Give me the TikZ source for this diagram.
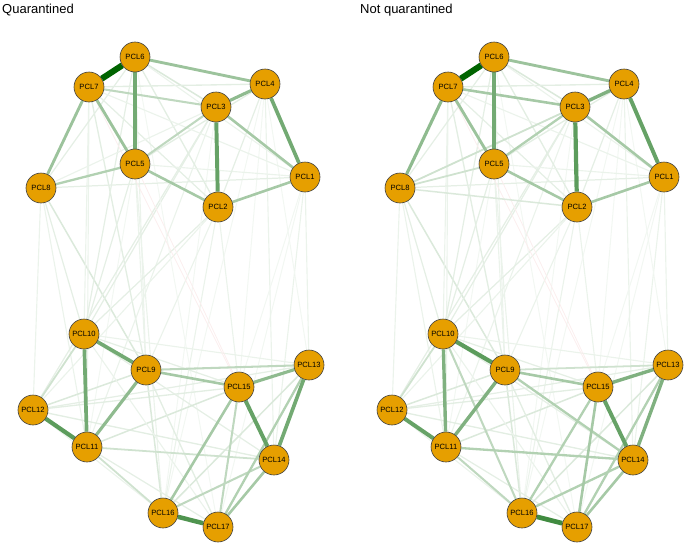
\documentclass[tikz,border=0pt]{standalone}
\usepackage{fontspec}
\setmainfont{Liberation Sans}
\usetikzlibrary{backgrounds}
\definecolor{qgreen}{RGB}{0,100,0}
\definecolor{qred}{RGB}{200,40,40}
\definecolor{qorange}{RGB}{230,159,0}
\begin{document}
\begin{tikzpicture}[x=1pt,y=-1pt,
    pcl/.style={circle,draw=black!75,line width=.6pt,fill=qorange,minimum size=30pt,inner sep=0pt,font=\fontsize{7.6}{9}\selectfont},
    title/.style={anchor=base west,inner sep=0pt,font=\fontsize{13}{15}\selectfont}]
    \useasboundingbox (0,0) rectangle (685,546);
    \node[title] (tq) at (2,13) {Quarantined};
    \node[title] (tn) at (360,13) {Not quarantined};
    % same layout in both panels
    \foreach \i/\x/\y in {1/305/177,2/218/207,3/216/107,4/265/84,5/135/164,6/135/57,7/89/87,8/41/188,
        9/146/370,10/84/334,11/87/447,12/33/410,13/309/365,14/274/460,15/239/387,16/163/513,17/218/527}{
        \node[pcl] (q\i) at (\x,\y) {PCL\i};
        \node[pcl] (n\i) at (\x+359,\y) {PCL\i};
    }
    \begin{scope}[on background layer]
        % weak edges, both panels
        \foreach \p in {q,n}{
            \foreach \a/\b/\w [evaluate=\w as \pc using int(100*\w)] in {
                8/9/.15,8/10/.1,8/11/.08,8/12/.08,7/10/.08,7/9/.12,7/11/.08,6/10/.1,6/9/.08,5/10/.1,
                5/16/.08,5/11/.06,3/10/.1,3/12/.1,3/11/.08,2/10/.1,2/16/.08,2/15/.08,2/12/.08,1/13/.08,
                1/14/.08,1/17/.06,4/13/.06,4/14/.08,4/16/.06,6/17/.06,1/15/.06,4/15/.06,3/16/.06,5/9/.08,
                2/9/.08,6/3/.15,6/2/.12,7/4/.12,8/1/.1,7/2/.1,5/1/.08,6/8/.1,4/5/.12,4/2/.1,6/1/.08,
                7/1/.08,4/8/.08,12/9/.15,12/15/.12,12/14/.12,10/14/.1,9/16/.15,11/15/.15,12/13/.1,
                9/17/.12,10/15/.1,11/17/.1,13/16/.15,12/16/.08,10/13/.08,10/17/.08}
                \draw[line width=.7pt+\w*5.4pt,draw=qgreen!\pc!white] (\p\a) -- (\p\b);
            \foreach \a/\b in {7/15,5/14}
                \draw[line width=.8pt,draw=qred!8!white] (\p\a) -- (\p\b);
        }
        % quarantined
        \foreach \a/\b/\w [evaluate=\w as \pc using int(100*\w)] in {
            7/3/.25,3/5/.25,5/8/.3,3/1/.35,5/2/.35,2/1/.35,6/4/.4,7/8/.4,7/5/.4,4/3/.45,6/5/.55,
            4/1/.55,3/2/.6,6/7/1,
            10/12/.2,11/14/.2,11/16/.2,14/16/.25,13/17/.3,15/17/.25,9/13/.25,9/15/.35,15/16/.35,
            14/17/.35,9/11/.45,15/13/.45,10/9/.55,10/11/.55,13/14/.55,15/14/.6,12/11/.65,16/17/.7}
            \draw[line width=.7pt+\w*5.4pt,draw=qgreen!\pc!white] (q\a) -- (q\b);
        % not quarantined
        \foreach \a/\b/\w [evaluate=\w as \pc using int(100*\w)] in {
            3/8/.2,5/8/.2,8/2/.15,3/5/.3,7/3/.35,3/1/.35,5/2/.35,2/1/.35,6/4/.4,7/5/.4,7/8/.45,
            4/3/.5,6/5/.55,4/1/.6,3/2/.65,6/7/1,
            10/12/.2,9/13/.2,10/16/.25,11/16/.25,11/14/.3,9/14/.3,14/16/.3,13/17/.3,15/16/.3,
            9/15/.35,14/17/.35,15/17/.35,10/11/.5,9/11/.5,15/13/.5,13/14/.5,12/11/.6,15/14/.6,
            10/9/.65,16/17/.75}
            \draw[line width=.7pt+\w*5.4pt,draw=qgreen!\pc!white] (n\a) -- (n\b);
    \end{scope}
\end{tikzpicture}
\end{document}
